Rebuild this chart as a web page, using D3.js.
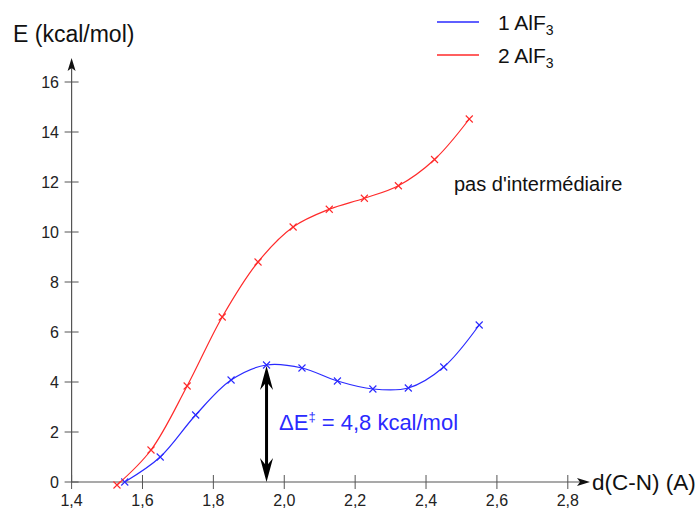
<!DOCTYPE html>
<html><head><meta charset="utf-8">
<script src="https://cdn.jsdelivr.net/npm/d3@7"></script>
<style>body{margin:0;background:#fff}svg{font-family:"Liberation Sans",Arial,sans-serif}</style>
</head><body><svg id="c" width="700" height="508"></svg>
<script>
const xTicks = [1.4,1.6,1.8,2.0,2.2,2.4,2.6,2.8];
const yTicks = [0,2,4,6,8,10,12,14,16];
const xOne = [1.55,1.65,1.75,1.85,1.95,2.05,2.15,2.25,2.35,2.45,2.55];
const yOne = [0,1.0,2.68,4.08,4.68,4.56,4.04,3.72,3.76,4.6,6.28];
const xTwo = [1.528,1.624,1.726,1.825,1.926,2.025,2.127,2.226,2.322,2.424,2.522];
const yTwo = [-0.12,1.28,3.84,6.6,8.8,10.2,10.91,11.35,11.85,12.9,14.52];
const seriesNames = ["1 AlF","2 AlF"];
const colors = ["#2a2aff","#ff2a2a"];

const svg = d3.select("#c");
const x = d3.scaleLinear().domain([1.4,2.8]).range([71.6,567.8]);
const y = d3.scaleLinear().domain([0,16]).range([482,82]);
const axisColor = "#555";

// x axis
svg.append("line").attr("x1",x(1.4)).attr("x2",582).attr("y1",y(0)).attr("y2",y(0)).attr("stroke",axisColor).attr("stroke-width",1.2);
svg.append("path").attr("d",`M590,${y(0)} L577,${y(0)-4} L580,${y(0)} L577,${y(0)+4}Z`).attr("fill","#111");
xTicks.forEach(t=>{
  svg.append("line").attr("x1",x(t)).attr("x2",x(t)).attr("y1",y(0)-7).attr("y2",y(0)+7).attr("stroke",axisColor);
  svg.append("text").attr("x",x(t)).attr("y",506).attr("text-anchor","middle").attr("font-size",16).attr("fill","#222").text(d3.format(".1f")(t).replace(".",","));
});
// y axis
svg.append("line").attr("x1",x(1.4)).attr("x2",x(1.4)).attr("y1",y(0)).attr("y2",66).attr("stroke",axisColor).attr("stroke-width",1.2);
svg.append("path").attr("d",`M${x(1.4)},58 L${x(1.4)-4},71 L${x(1.4)},68 L${x(1.4)+4},71Z`).attr("fill","#111");
yTicks.forEach(t=>{
  svg.append("line").attr("x1",x(1.4)-7).attr("x2",x(1.4)+7).attr("y1",y(t)).attr("y2",y(t)).attr("stroke",axisColor);
  svg.append("text").attr("x",59).attr("y",y(t)+6).attr("text-anchor","end").attr("font-size",16).attr("fill","#222").text(t);
});

// series
const line = d3.line().x(d=>x(d[0])).y(d=>y(d[1])).curve(d3.curveCatmullRom.alpha(0.5));
[[xOne,yOne],[xTwo,yTwo]].forEach((s,i)=>{
  const pts = s[0].map((v,j)=>[v,s[1][j]]);
  svg.append("path").datum(pts).attr("d",line).attr("fill","none").attr("stroke",colors[i]).attr("stroke-width",1.2);
  pts.forEach(p=>{
    const cx=x(p[0]), cy=y(p[1]), r=3.5;
    svg.append("path").attr("d",`M${cx-r},${cy-r}L${cx+r},${cy+r}M${cx-r},${cy+r}L${cx+r},${cy-r}`).attr("stroke",colors[i]).attr("stroke-width",1.1);
  });
});

// legend
seriesNames.forEach((n,i)=>{
  const ly = 22 + i*33;
  svg.append("line").attr("x1",437).attr("x2",479).attr("y1",ly).attr("y2",ly).attr("stroke",colors[i]).attr("stroke-width",1.3);
  const t = svg.append("text").attr("x",498).attr("y",ly+8).attr("font-size",21).attr("fill","#111");
  t.append("tspan").text(n);
  t.append("tspan").attr("font-size",14).attr("dy",5).text("3");
});

// labels
svg.append("text").attr("x",13).attr("y",42).attr("font-size",23).attr("fill","#111").text("E (kcal/mol)");
svg.append("text").attr("x",592).attr("y",490).attr("font-size",22.5).attr("fill","#111").text("d(C-N) (A)");
svg.append("text").attr("x",454).attr("y",191).attr("font-size",20).attr("fill","#111").text("pas d'intermédiaire");

// double arrow
const ax = x(1.95);
const arrTop = y(4.68)+1, arrBot = y(0);
svg.append("line").attr("x1",ax).attr("x2",ax).attr("y1",arrTop+12).attr("y2",arrBot-12).attr("stroke","#000").attr("stroke-width",3);
svg.append("path").attr("d",`M${ax},${arrTop} L${ax-6.5},${arrTop+24} L${ax},${arrTop+16} L${ax+6.5},${arrTop+24}Z`).attr("fill","#000");
svg.append("path").attr("d",`M${ax},${arrBot} L${ax-6.5},${arrBot-24} L${ax},${arrBot-16} L${ax+6.5},${arrBot-24}Z`).attr("fill","#000");
const dt = svg.append("text").attr("x",279).attr("y",430).attr("font-size",22).attr("fill","#2a2aff");
dt.append("tspan").text("ΔE");
dt.append("tspan").attr("font-size",13).attr("dy",-9).text("‡");
dt.append("tspan").attr("dy",9).text(" = 4,8 kcal/mol");
</script></body></html>
